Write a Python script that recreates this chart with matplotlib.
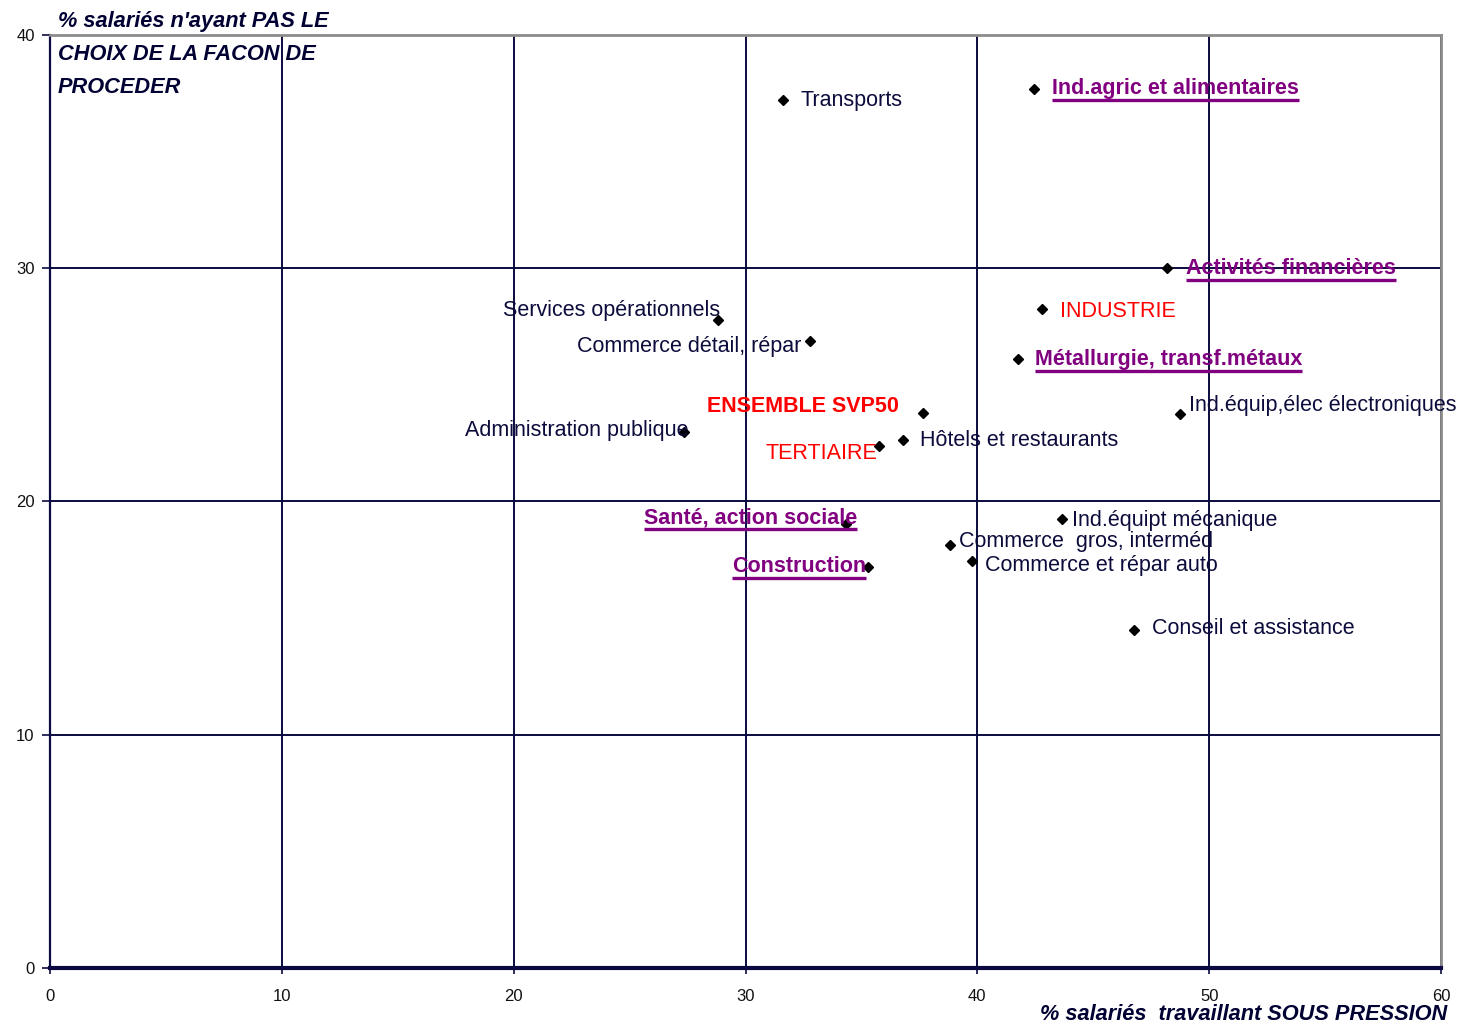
import matplotlib
matplotlib.use("Agg")
import matplotlib.pyplot as plt
from matplotlib.lines import Line2D

# Sector data: % employees working under pressure (x) vs % without choice of method (y)
labels = [
    "Transports", "Ind.agric et alimentaires", "Activités financières", "INDUSTRIE",
    "Métallurgie, transf.métaux", "Ind.équip,élec électroniques", "Services opérationnels",
    "Commerce détail, répar", "ENSEMBLE SVP50", "Administration publique",
    "Hôtels et restaurants", "TERTIAIRE", "Santé, action sociale", "Ind.équipt mécanique",
    "Commerce  gros, interméd", "Commerce et répar auto", "Construction", "Conseil et assistance",
]
pression = [31.6, 42.45, 48.2, 42.8, 41.75, 48.75, 28.8, 32.8, 37.65, 27.35,
            36.8, 35.75, 34.35, 43.65, 38.8, 39.75, 35.3, 46.75]
pas_choix = [37.2, 37.7, 30.0, 28.25, 26.1, 23.75, 27.8, 26.9, 23.8, 23.0,
             22.65, 22.4, 19.05, 19.25, 18.15, 17.45, 17.2, 14.5]
kinds = ["reg", "sector", "sector", "agg", "sector", "reg", "reg", "reg", "total", "reg",
         "reg", "agg", "sector", "reg", "reg", "reg", "sector", "reg"]

x_ticks = [0, 10, 20, 30, 40, 50, 60]
y_ticks = [0, 10, 20, 30, 40]

# Label placement: (ha, dx px, dy px downward) relative to each marker
placement = [
    ("left", 18, 0), ("left", 18, 0), ("left", 19, 0), ("left", 18, 2),
    ("left", 17, 0), ("left", 9, -9), ("right", 2, -9), ("right", -9, 6),
    ("right", -24, -6), ("right", 4, -1), ("left", 17, 1), ("right", -2, 8),
    ("right", 11, -6), ("left", 10, 2), ("left", 9, -3), ("left", 13, 5),
    ("right", -2, 0), ("left", 18, -1),
]

NAVY = "#0a0a40"
TEXT_NAVY = "#0c0c3c"
PURPLE = "#800080"
RED = "#ff0000"
GREY = "#8c8c8c"

plt.rcParams["font.family"] = ["Liberation Sans", "DejaVu Sans"]

styles = {
    "reg": dict(color=TEXT_NAVY, fontweight="normal"),
    "sector": dict(color=PURPLE, fontweight="bold"),
    "agg": dict(color=RED, fontweight="normal"),
    "total": dict(color=RED, fontweight="bold"),
}

W, H = 1458, 1026
fig = plt.figure(figsize=(W / 100, H / 100), dpi=100)
ax = fig.add_axes([50 / W, 1 - 968 / H, (1441 - 50) / W, (968 - 35) / H])

ax.set_xlim(0, 60)
ax.set_ylim(0, 40)
ax.set_xticks(x_ticks)
ax.set_yticks(y_ticks)
ax.set_xticklabels([str(v) for v in x_ticks])
ax.set_yticklabels([str(v) for v in y_ticks])
ax.tick_params(axis="both", colors=NAVY, labelcolor="#111111", labelsize=12,
               direction="out", width=1.2)
ax.tick_params(axis="x", length=4, pad=11)
ax.tick_params(axis="y", length=6, pad=5)

ax.set_axisbelow(True)
ax.grid(True, color=NAVY, linewidth=1.4)
ax.spines["top"].set_color(GREY)
ax.spines["right"].set_color(GREY)
ax.spines["top"].set_linewidth(2)
ax.spines["right"].set_linewidth(2)
ax.spines["left"].set_color(NAVY)
ax.spines["left"].set_linewidth(1.6)
ax.spines["bottom"].set_color(NAVY)
ax.spines["bottom"].set_linewidth(3)

ax.plot(pression, pas_choix, linestyle="none", marker="D", markersize=5,
        color="black", zorder=5, clip_on=False)

texts = []
for lab, x, y, kind, (ha, dx, dy) in zip(labels, pression, pas_choix, kinds, placement):
    t = ax.annotate(lab, (x, y), xytext=(dx * 0.72, -dy * 0.72), textcoords="offset points",
                    ha=ha, va="center", fontsize=15.5, zorder=6, **styles[kind])
    texts.append((t, kind))

fig.text(58 / W, 1 - 11 / H, "% salariés n'ayant PAS LE\nCHOIX DE LA FACON DE\nPROCEDER",
         ha="left", va="top", fontsize=15.7, fontweight="bold", fontstyle="italic",
         color="#000033", linespacing=1.76)
fig.text(1447 / W, 1 - 1014 / H, "% salariés  travaillant SOUS PRESSION",
         ha="right", va="center", fontsize=15.7, fontweight="bold", fontstyle="italic",
         color="#000033")

# Underline the highlighted sector names
fig.canvas.draw()
renderer = fig.canvas.get_renderer()
for t, kind in texts:
    if kind != "sector":
        continue
    bb = t.get_window_extent(renderer)
    y_line = (bb.y0 - 1) / H
    fig.add_artist(Line2D([bb.x0 / W, bb.x1 / W], [y_line, y_line],
                          transform=fig.transFigure, color=PURPLE, linewidth=2.4,
                          solid_capstyle="butt"))

fig.savefig("out.png", dpi=100)
